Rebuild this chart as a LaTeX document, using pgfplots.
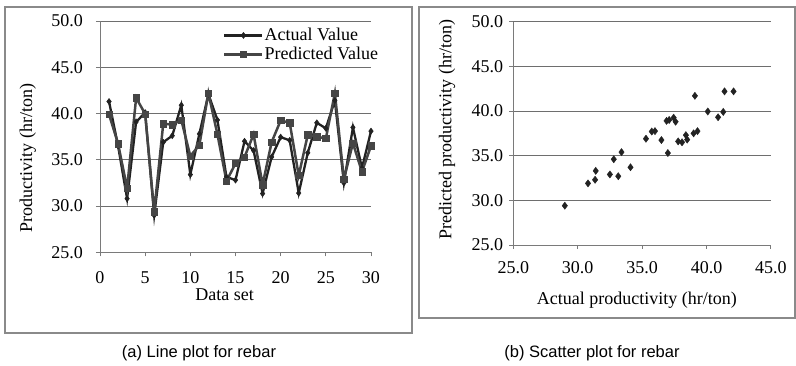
\documentclass[border=0pt]{standalone}
\usepackage{fontspec}
\setmainfont{Liberation Serif}
\newfontfamily\capfont{Liberation Sans}
\usepackage{pgfplots}
\usepackage{pgfplotstable}
\pgfplotsset{compat=1.18}
\definecolor{axgray}{HTML}{7A7A7A}
\definecolor{gridgray}{HTML}{6E6E6E}
\definecolor{framegray}{HTML}{8A8A8A}
\definecolor{actcol}{HTML}{222222}
\definecolor{predcol}{HTML}{454545}
\pgfplotstableread{
i act pred
1 41.3 39.9
2 36.5 36.75
3 30.8 31.9
4 39.1 41.7
5 40.1 39.95
6 29.0 29.4
7 36.9 38.9
8 37.6 38.8
9 40.9 39.3
10 33.4 35.4
11 37.8 36.6
12 42.1 42.2
13 39.3 37.75
14 33.15 32.7
15 32.8 34.6
16 37.0 35.3
17 36.0 37.75
18 31.35 32.3
19 35.3 36.9
20 37.45 39.25
21 37.1 39.0
22 31.4 33.3
23 35.75 37.7
24 39.0 37.5
25 38.4 37.3
26 41.4 42.2
27 32.5 32.9
28 38.5 36.8
29 34.1 33.7
30 38.1 36.5
}\rebar
\pgfplotsset{
  chartbase/.style={
    scale only axis,
    axis x line=bottom, axis y line=left,
    axis line style={-, draw=axgray, line width=0.9pt},
    ymajorgrids, major grid style={draw=gridgray, line width=0.9pt},
    tick align=outside, major tick length=4pt,
    tick style={draw=axgray, line width=0.9pt},
    tick label style={font=\fontsize{18}{20}\selectfont},
    label style={font=\fontsize{18}{20}\selectfont},
    /pgf/number format/assume math mode=true,
    ymin=25, ymax=50, ytick={25,30,...,50},
    y tick label style={/pgf/number format/fixed, /pgf/number format/fixed zerofill, /pgf/number format/precision=1},
    clip=false,
  }
}
\begin{document}
\begin{tikzpicture}
\useasboundingbox (0pt,0pt) rectangle (796pt,-366pt);
\draw[framegray, line width=1.1pt] (5pt,-7pt) rectangle (412pt,-333pt);
\draw[framegray, line width=1.1pt] (419pt,-7pt) rectangle (795pt,-318pt);
\node[font=\capfont\fontsize{16.5}{18}\selectfont] at (199pt,-353pt) {(a) Line plot for rebar};
\node[font=\capfont\fontsize{16.5}{18}\selectfont] at (592pt,-353pt) {(b) Scatter plot for rebar};
\begin{axis}[chartbase,
  at={(100pt,-252.3pt)}, anchor=south west,
  width=271pt, height=231.3pt,
  xmin=0, xmax=30, xtick={0,5,...,30},
  xticklabel style={anchor=north, inner sep=0pt, yshift=-15pt},
  yticklabel style={anchor=east, inner sep=0pt, xshift=-13pt},
  xlabel={Data set},
  ylabel={Productivity (hr/ton)},
  xlabel style={at={(axis description cs:0.46,-0.185)}, anchor=center},
  ylabel style={at={(axis description cs:-0.266,0.408)}, anchor=center, rotate=0},
  legend style={at={(0.454,0.973)}, anchor=north west, draw=none, fill=none,
    font=\fontsize{18}{20}\selectfont, inner sep=0pt, row sep=3pt,
    nodes={inner sep=1pt}},
  legend cell align=left,
  legend image code/.code={\draw[mark repeat=2,mark phase=2,#1] plot coordinates {(0pt,0pt) (19pt,0pt) (38pt,0pt)};},
]
\addplot[color=actcol, line width=2.3pt, mark=diamond*, mark size=3pt, mark options={solid, line width=0.5pt}] table[x=i,y=act]{\rebar};
\addlegendentry{Actual Value}
\addplot[color=predcol, line width=2.5pt, mark=square*, mark size=3.2pt, mark options={solid, line width=0.5pt}] table[x=i,y=pred]{\rebar};
\addlegendentry{Predicted Value}
\end{axis}
\begin{axis}[chartbase,
  at={(513.3pt,-245pt)}, anchor=south west,
  width=257.6pt, height=223.3pt,
  xmin=25, xmax=45, xtick={25,30,...,45},
  x tick label style={/pgf/number format/fixed, /pgf/number format/fixed zerofill, /pgf/number format/precision=1},
  xticklabel style={anchor=north, inner sep=0pt, yshift=-12pt},
  yticklabel style={anchor=east, inner sep=0pt, xshift=-6pt},
  xlabel={Actual productivity (hr/ton)},
  ylabel={Predicted productivity (hr/ton)},
  xlabel style={at={(axis description cs:0.48,-0.246)}, anchor=center},
  ylabel style={at={(axis description cs:-0.257,0.515)}, anchor=center, rotate=0},
]
\addplot[only marks, color=actcol, mark=diamond*, mark size=3.6pt] table[x=act,y=pred]{\rebar};
\end{axis}
\end{tikzpicture}
\end{document}
